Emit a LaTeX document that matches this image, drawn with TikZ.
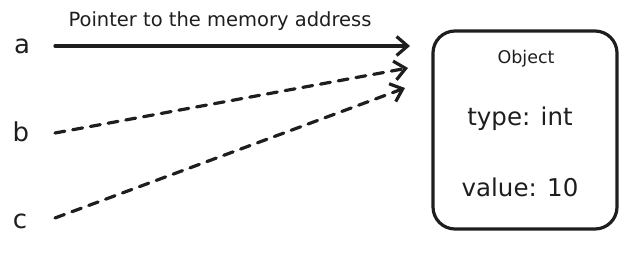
\documentclass[tikz,border=0pt]{standalone}
\usepackage{fontspec}
\setmainfont{DejaVu Sans}
\usetikzlibrary{arrows.meta}
\definecolor{ink}{HTML}{1E1E1E}
\begin{document}
\begin{tikzpicture}[x=1pt,y=-1pt,color=ink,
  lbl/.style={inner sep=0pt,font=\fontsize{26}{26}\selectfont},
  conn/.style={line width=3.2pt,line cap=round,-{Straight Barb[length=11pt,width=19pt,line width=3.2pt]}},
  dashconn/.style={conn,dash pattern=on 10pt off 8pt},
  objbox/.style={draw,line width=3.2pt,rounded corners=22pt,minimum width=184pt,minimum height=198pt,inner sep=0pt},
  boxtext/.style={inner sep=0pt,font=\fontsize{24.5}{24.5}\selectfont}]
\useasboundingbox (0,0) rectangle (631,256);
\node[lbl,anchor=base] (a) at (22,54) {a};
\node[lbl,anchor=base] (b) at (21,142) {b};
\node[lbl,anchor=base] (c) at (20,229) {c};
\node[objbox] (obj) at (525,130) {};
\node[inner sep=0pt,font=\fontsize{17.5}{17.5}\selectfont] (objt) at (526,59) {Object};
\node[boxtext] (ty) at (520,119) {type: int};
\node[boxtext] (va) at (520,187) {value: 10};
\coordinate (sa) at (55,46);
\coordinate (ta) at (410,46);
\coordinate (sb) at (55,133);
\coordinate (tb) at (408,68);
\coordinate (sc) at (55,218);
\coordinate (tc) at (405,88);
\draw[conn] (sa) -- (ta);
\node[font=\fontsize{19.5}{19.5}\selectfont,inner sep=0pt] (pl) at (220,21) {Pointer to the memory address};
\draw[dashconn] (sb) -- (tb);
\draw[dashconn] (sc) -- (tc);
\end{tikzpicture}
\end{document}
